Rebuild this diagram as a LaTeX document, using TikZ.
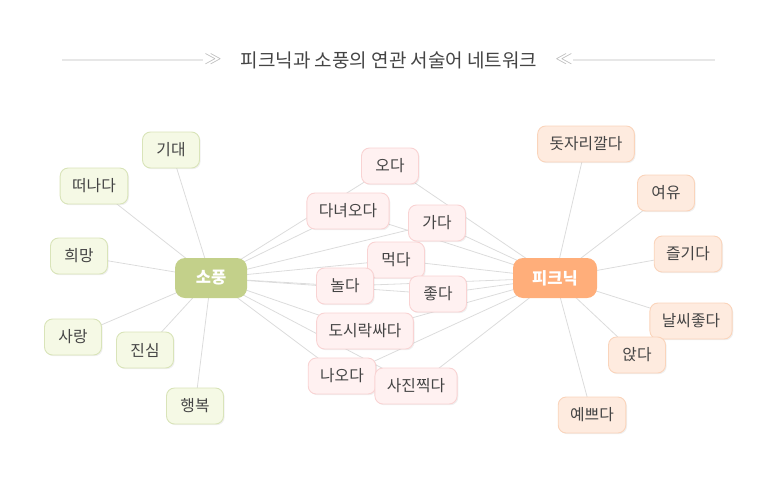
\documentclass[tikz,border=0pt]{standalone}
\usepackage{fontspec}
\setmainfont{Noto Sans CJK KR}
\usetikzlibrary{shadows,backgrounds}
\definecolor{hubgreen}{HTML}{C3D08A}
\definecolor{leafgreen}{HTML}{F5F9E5}
\definecolor{linegreen}{HTML}{D9E4B9}
\definecolor{hubpeach}{HTML}{FFAE7A}
\definecolor{leafpeach}{HTML}{FEEBDF}
\definecolor{linepeach}{HTML}{FAD4BB}
\definecolor{leafpink}{HTML}{FFF1F1}
\definecolor{linepink}{HTML}{F9D3D3}
\definecolor{edgegray}{HTML}{DCDCDC}
\definecolor{textgray}{HTML}{444444}
\begin{document}
\begin{tikzpicture}[x=1pt, y=-1pt,
  word/.style={rounded corners=8pt, line width=0.9pt, minimum height=36pt, minimum width=57pt,
    inner xsep=12pt, text=textgray, font=\fontsize{15.8}{17}\selectfont,
    drop shadow={shadow xshift=1.2pt, shadow yshift=-1.2pt, opacity=0.12}},
  sopung/.style={word, draw=linegreen, fill=leafgreen},
  middle/.style={word, draw=linepink, fill=leafpink},
  picnic/.style={word, draw=linepeach, fill=leafpeach},
  hub/.style={rounded corners=10pt, minimum height=40pt, minimum width=72pt, inner xsep=18pt,
    text=white, font=\fontsize{16.5}{18}\selectfont\bfseries},
  link/.style={edgegray, line width=0.8pt}]
\useasboundingbox (0,0) rectangle (778,490);
% title
\node[text=textgray, font=\fontsize{19}{21}\selectfont] (title) at (389,60) {피크닉과 소풍의 연관 서술어 네트워크};
\coordinate (tl0) at (62,60);
\coordinate (tl1) at (203,60);
\coordinate (tr0) at (573,60);
\coordinate (tr1) at (715,60);
\draw[edgegray!70, line width=1.6pt] (tl0) -- (tl1);
\draw[edgegray!70, line width=1.6pt] (tr0) -- (tr1);
\node[text=gray!60, font=\fontsize{16}{16}\selectfont] (chl) at (213,59) {$\gg$};
\node[text=gray!60, font=\fontsize{16}{16}\selectfont] (chr) at (564,59) {$\ll$};
% hubs
\node[hub, fill=hubgreen] (sp) at (211,278) {소풍};
\node[hub, fill=hubpeach, minimum width=84pt] (pc) at (555,278) {피크닉};
% sopung words
\node[sopung] (sp1) at (171,150) {기대};
\node[sopung] (sp2) at (94,186) {떠나다};
\node[sopung] (sp3) at (79,256) {희망};
\node[sopung] (sp4) at (73,337) {사랑};
\node[sopung] (sp5) at (145,350) {진심};
\node[sopung] (sp6) at (195,406) {행복};
% shared words
\node[middle] (md1) at (390,166) {오다};
\node[middle] (md2) at (348,211) {다녀오다};
\node[middle] (md3) at (437,223) {가다};
\node[middle] (md4) at (396,260) {먹다};
\node[middle] (md5) at (345,286) {놀다};
\node[middle] (md6) at (438,294) {좋다};
\node[middle] (md7) at (365,331) {도시락싸다};
\node[middle] (md8) at (342,376) {나오다};
\node[middle] (md9) at (416,386) {사진찍다};
% picnic words
\node[picnic] (pc1) at (586,144) {돗자리깔다};
\node[picnic] (pc2) at (666,193) {여유};
\node[picnic] (pc3) at (688,254) {즐기다};
\node[picnic] (pc4) at (691,321) {날씨좋다};
\node[picnic] (pc5) at (637,355) {앉다};
\node[picnic] (pc6) at (592,415) {예쁘다};
% links
\begin{scope}[on background layer]
\foreach \i in {1,...,6} {
  \draw[link] (sp.center) -- (sp\i.center);
  \draw[link] (pc.center) -- (pc\i.center);
}
\foreach \i in {1,...,9} {
  \draw[link] (sp.center) -- (md\i.center);
  \draw[link] (pc.center) -- (md\i.center);
}
\end{scope}
\end{tikzpicture}
\end{document}
